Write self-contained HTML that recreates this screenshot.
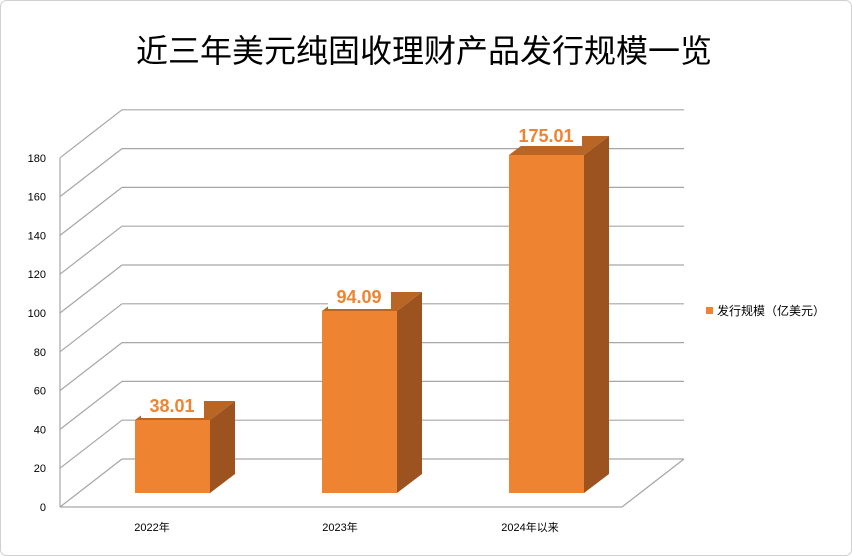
<!DOCTYPE html>
<html><head><meta charset="utf-8"><style>
html,body{margin:0;padding:0;background:#fff;}
svg{display:block;}
text{font-family:"Liberation Sans","Noto Sans CJK SC",sans-serif;}
</style></head><body>
<svg width="852" height="556" viewBox="0 0 852 556" xmlns="http://www.w3.org/2000/svg">
<rect x="0.5" y="0.5" width="851" height="555" rx="6" fill="#fff" stroke="#d0d0d0"/>
<text x="424" y="62" font-size="32" text-anchor="middle" fill="#000" font-family="Noto Sans CJK SC,sans-serif">近三年美元纯固收理财产品发行规模一览</text>
<g stroke="#a6a6a6" stroke-width="1.2" fill="none">
<line x1="60" y1="158" x2="60" y2="507"/>
<line x1="60" y1="507" x2="622" y2="507"/>
<line x1="622" y1="507" x2="684" y2="459"/>
</g>
<g stroke="#a6a6a6" stroke-width="1.2" fill="none" id="grid"></g>
<g font-size="11" fill="#000" text-anchor="end" id="ticks"></g>
<g>
<polygon points="210,420 235,401 235,474 210,493" fill="#9c531f"/>
<polygon points="135,420 160,401 235,401 210,420" fill="#b86525"/>
<rect x="135" y="420" width="75" height="73" fill="#ee8432"/>
<polygon points="397,311 422,292 422,474 397,493" fill="#9c531f"/>
<polygon points="322,311 347,292 422,292 397,311" fill="#b86525"/>
<rect x="322" y="311" width="75" height="182" fill="#ee8432"/>
<polygon points="584,155 609,136 609,474 584,493" fill="#9c531f"/>
<polygon points="509,155 534,136 609,136 584,155" fill="#b86525"/>
<rect x="509" y="155" width="75" height="338" fill="#ee8432"/>
</g>
<g font-size="18" font-weight="bold" fill="#ee8432" text-anchor="middle">
<rect x="141" y="396" width="63" height="22" fill="#fff"/>
<text x="172" y="412">38.01</text>
<rect x="328" y="287" width="63" height="22" fill="#fff"/>
<text x="359" y="303">94.09</text>
<rect x="511" y="124" width="71" height="22" fill="#fff"/>
<text x="546" y="142">175.01</text>
</g>
<g font-size="11" fill="#000" text-anchor="middle">
<text x="152" y="531">2022年</text>
<text x="340" y="531">2023年</text>
<text x="530" y="531">2024年以来</text>
</g>
<rect x="706" y="307" width="7" height="7" fill="#ee8432"/>
<text x="717" y="315" font-size="12" fill="#000">发行规模（亿美元）</text>
</svg>
<script>
var g=document.getElementById('grid'),t=document.getElementById('ticks'),ns='http://www.w3.org/2000/svg';
for(var i=0;i<=9;i++){
 var fy=507-i*38.8, by=fy-48;
 var l1=document.createElementNS(ns,'line');l1.setAttribute('x1',60);l1.setAttribute('y1',fy);l1.setAttribute('x2',122);l1.setAttribute('y2',by);g.appendChild(l1);
 var l2=document.createElementNS(ns,'line');l2.setAttribute('x1',122);l2.setAttribute('y1',by);l2.setAttribute('x2',684);l2.setAttribute('y2',by);g.appendChild(l2);
 var tx=document.createElementNS(ns,'text');tx.setAttribute('x',46);tx.setAttribute('y',fy+4);tx.textContent=i*20;t.appendChild(tx);
}
</script>
</body></html>
